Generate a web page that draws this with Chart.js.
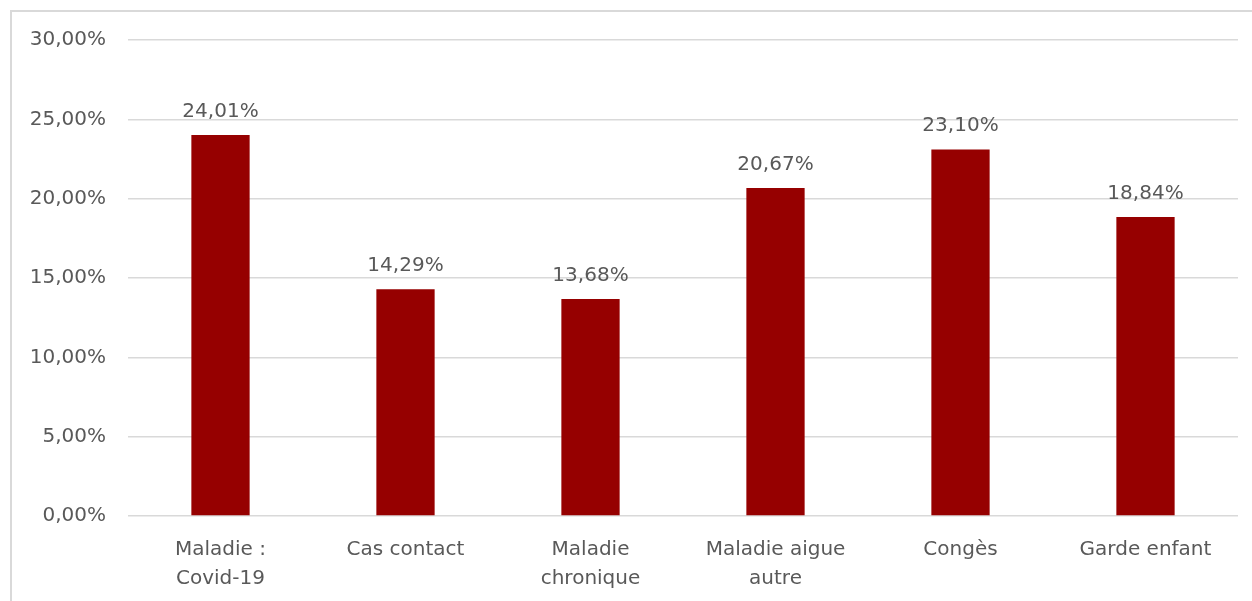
<!DOCTYPE html>
<html>
<head>
<meta charset="utf-8">
<script src="https://cdn.jsdelivr.net/npm/chart.js@4"></script>
<style>
  html, body { margin: 0; padding: 0; background: #fff; overflow: hidden; }
  #frame { position: absolute; left: 10px; top: 10px; width: 1300px; height: 700px; border: 2px solid #d9d9d9; box-sizing: border-box; }
  #wrap { position: absolute; left: 0; top: 0; width: 1252px; height: 601px; }
</style>
</head>
<body>
<div id="frame"></div>
<div id="wrap"><canvas id="chart"></canvas></div>
<script>
  // données du graphique
  const categories = [['Maladie :', 'Covid-19'], 'Cas contact', ['Maladie', 'chronique'], ['Maladie aigue', 'autre'], 'Congès', 'Garde enfant'];
  const values = [24.01, 14.29, 13.68, 20.67, 23.10, 18.84];
  const yTicks = [0, 5, 10, 15, 20, 25, 30];

  const textColor = '#595959';
  const fontFamily = '"DejaVu Sans", sans-serif';

  function fmtPct(v) {
    return v.toFixed(2).replace('.', ',') + '%';
  }

  // étiquettes de valeur au-dessus des barres
  const barLabels = {
    id: 'barLabels',
    afterDatasetsDraw(chart) {
      const ctx = chart.ctx;
      const meta = chart.getDatasetMeta(0);
      ctx.save();
      ctx.font = '20px ' + fontFamily;
      ctx.fillStyle = textColor;
      ctx.textAlign = 'center';
      ctx.textBaseline = 'alphabetic';
      meta.data.forEach((bar, i) => {
        ctx.fillText(fmtPct(values[i]), bar.x, bar.y - 18);
      });
      ctx.restore();
    },
  };

  new Chart(document.getElementById('chart'), {
    type: 'bar',
    data: {
      labels: categories,
      datasets: [{
        data: values,
        backgroundColor: '#960000',
        borderWidth: 0,
        categoryPercentage: 1,
        barPercentage: 0.315,
      }],
    },
    options: {
      responsive: true,
      maintainAspectRatio: false,
      animation: false,
      layout: { padding: { left: 10, top: 40, right: 14, bottom: 0 } },
      plugins: { legend: { display: false }, tooltip: { enabled: false } },
      scales: {
        x: {
          grid: { display: false },
          border: { display: false },
          ticks: { color: textColor, font: { family: fontFamily, size: 20, lineHeight: 1.45 }, padding: 11, maxRotation: 0, autoSkip: false },
          afterFit: (s) => { s.height = 85; },
        },
        y: {
          min: 0,
          max: 30,
          afterBuildTicks: (s) => { s.ticks = yTicks.map((v) => ({ value: v })); },
          grid: { color: '#d9d9d9', lineWidth: 1.5, drawTicks: false },
          border: { display: false },
          ticks: { color: textColor, font: { family: fontFamily, size: 20 }, padding: 22, callback: (v) => fmtPct(v) },
          afterFit: (s) => { s.width = 118; },
        },
      },
    },
    plugins: [barLabels],
  });
</script>
</body>
</html>
